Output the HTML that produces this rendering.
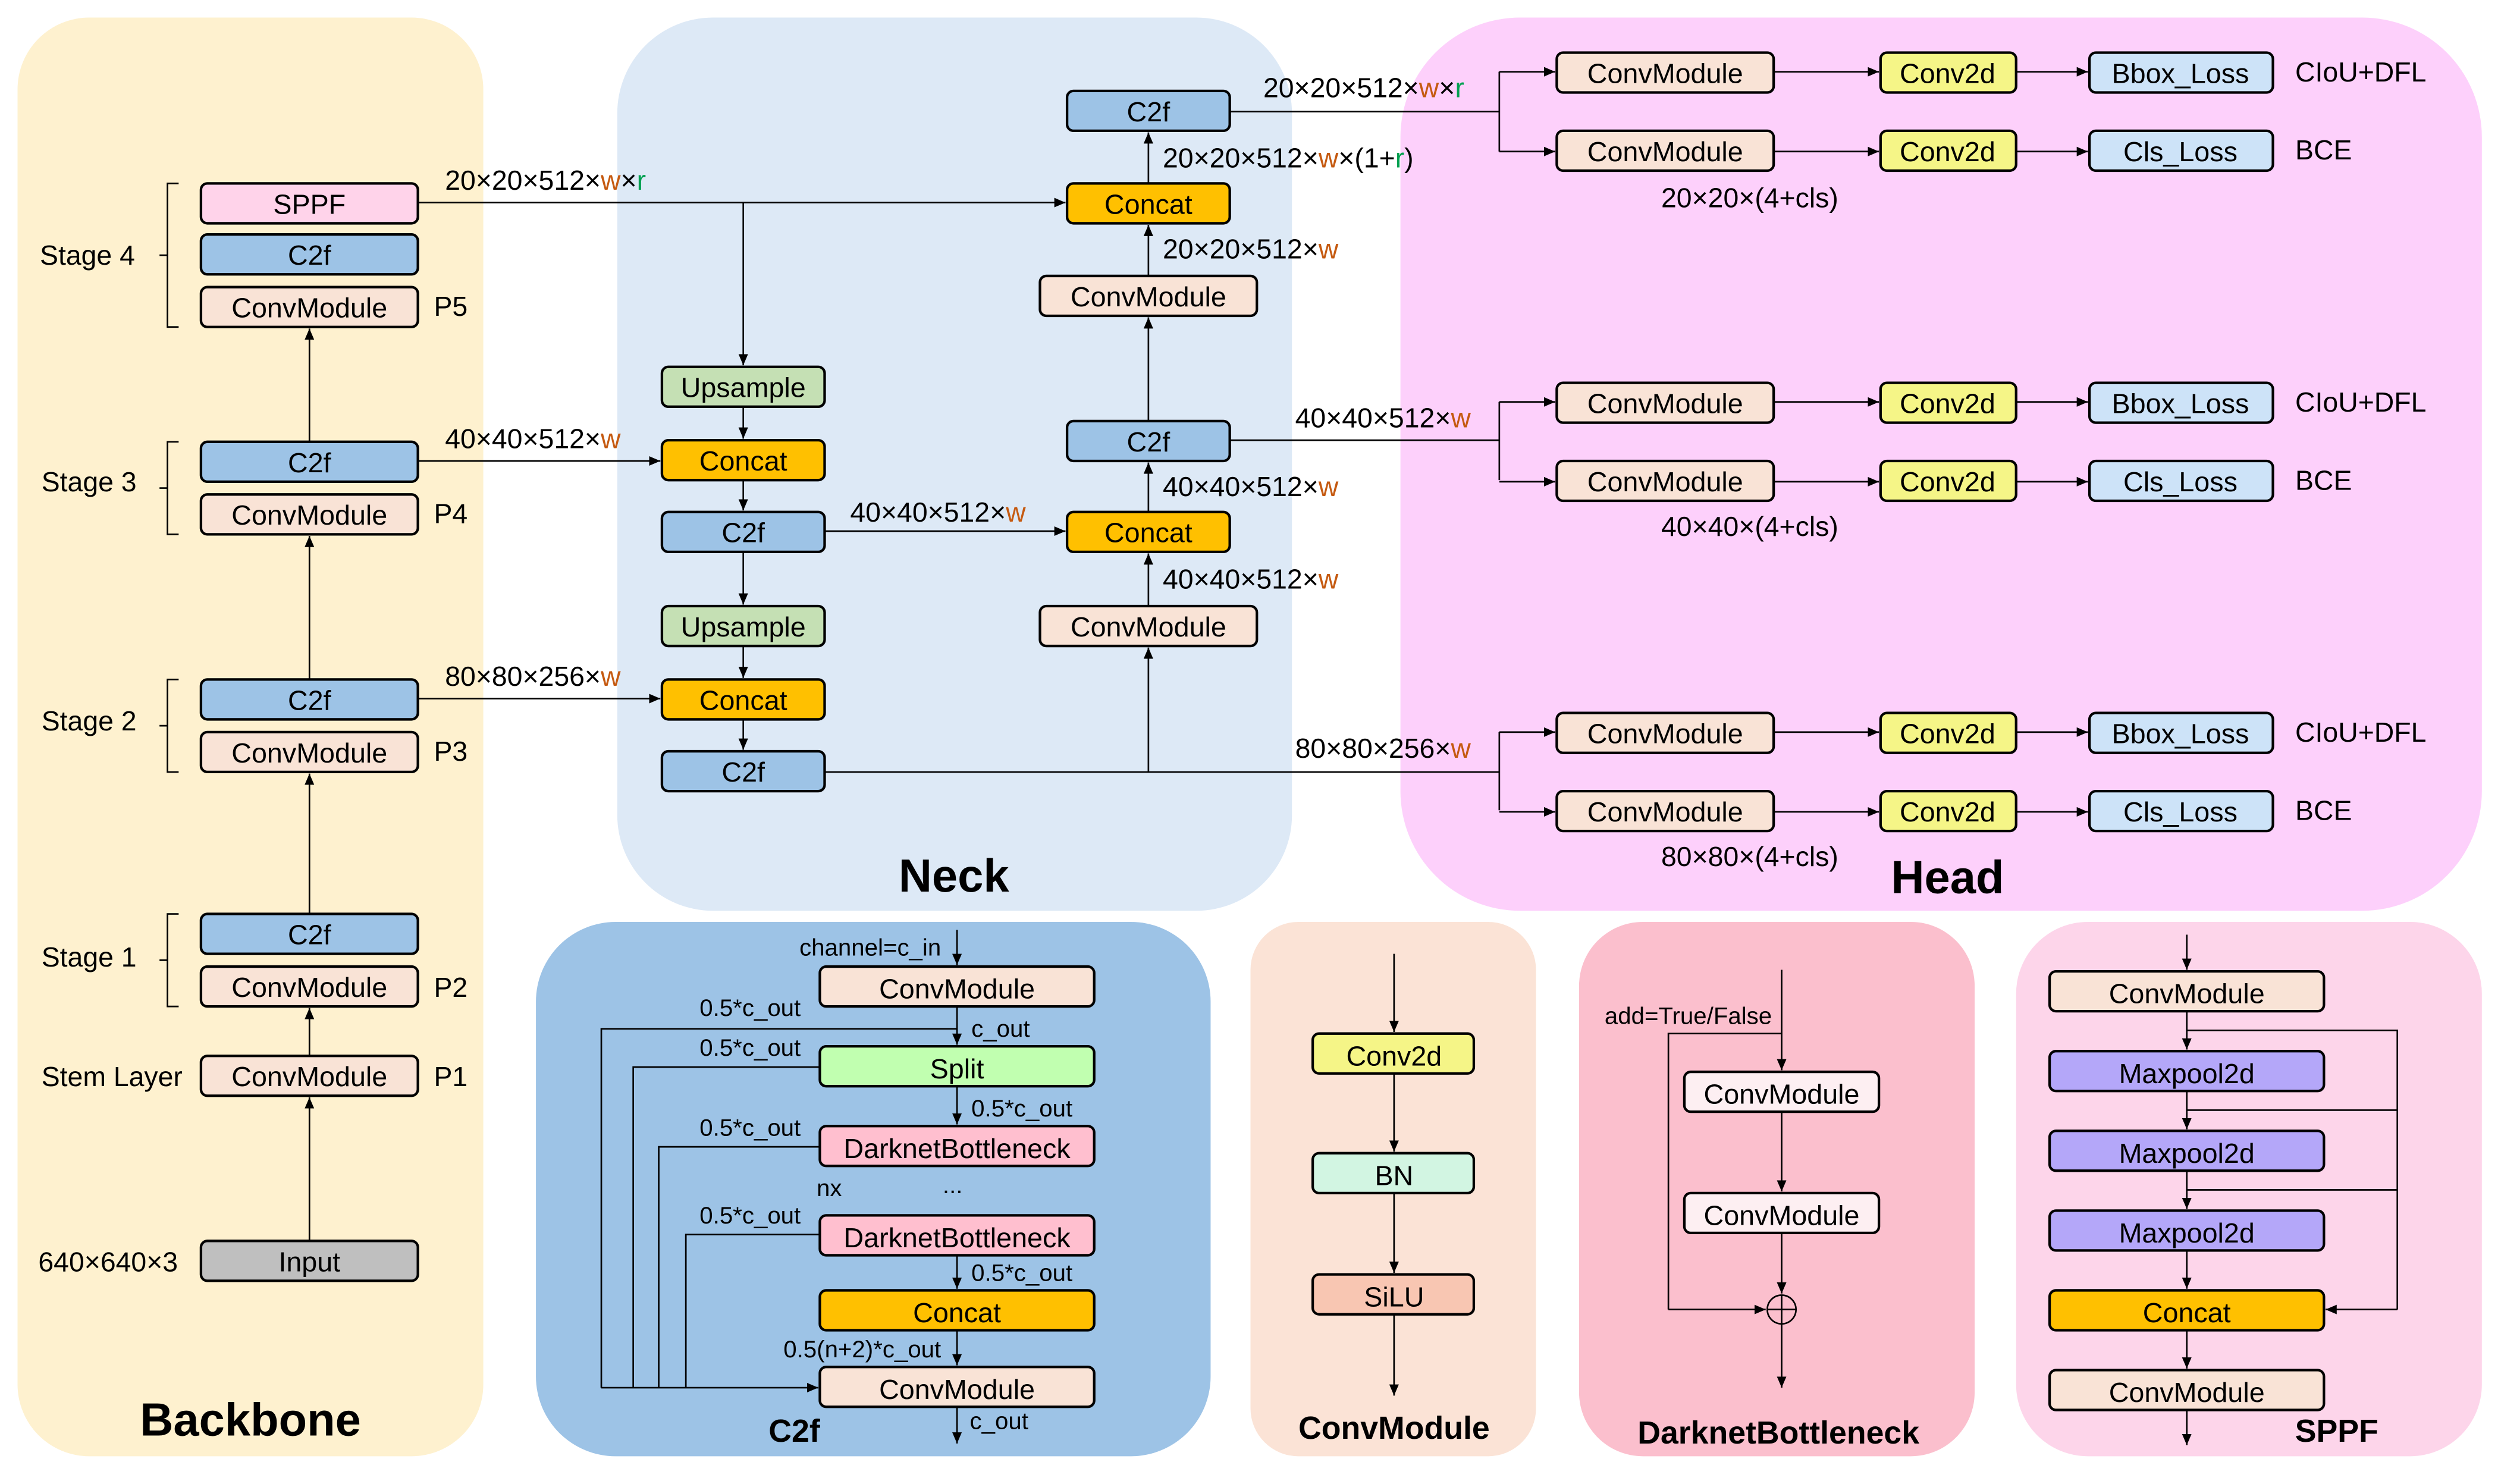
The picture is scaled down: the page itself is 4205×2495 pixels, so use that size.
<!DOCTYPE html>
<html><head><meta charset="utf-8"><style>html,body{margin:0;padding:0;background:#fff}svg{display:block}text{font-family:"Liberation Sans",Arial,sans-serif;fill:#000}</style></head>
<body>
<svg width="4205" height="2495" viewBox="0 0 1568 930.4" preserveAspectRatio="none" xmlns="http://www.w3.org/2000/svg">
<defs><marker id="a" markerWidth="8" markerHeight="8" refX="7" refY="4" orient="auto" markerUnits="userSpaceOnUse"><path d="M0,1 L7,4 L0,7 z" fill="#000"/></marker></defs>
<rect x="11" y="11" width="292" height="902" rx="45" fill="#fef1cf"/>
<rect x="387" y="11" width="423" height="560" rx="60" fill="#dde9f6"/>
<rect x="878" y="11" width="678" height="560" rx="75" fill="#fdd0fb"/>
<rect x="336" y="578" width="423" height="335" rx="50" fill="#9dc3e6"/>
<rect x="784" y="578" width="179" height="335" rx="30" fill="#fbe3d6"/>
<rect x="990" y="578" width="248" height="335" rx="40" fill="#fbbfcd"/>
<rect x="1264" y="578" width="292" height="335" rx="45" fill="#fdd5ea"/>
<g font-weight="bold" text-anchor="middle">
<text x="157" y="900" font-size="29">Backbone</text>
<text x="598" y="559" font-size="29">Neck</text>
<text x="1221" y="560" font-size="29">Head</text>
<text x="498" y="904" font-size="20">C2f</text>
<text x="874" y="902" font-size="20">ConvModule</text>
<text x="1115" y="905" font-size="20">DarknetBottleneck</text>
<text x="1465" y="904" font-size="20">SPPF</text>
</g>
<g fill="none" stroke="#000" stroke-width="1">
<line x1="194" y1="778" x2="194" y2="688" marker-end="url(#a)"/>
<line x1="194" y1="662" x2="194" y2="632" marker-end="url(#a)"/>
<line x1="194" y1="573" x2="194" y2="485" marker-end="url(#a)"/>
<line x1="194" y1="426" x2="194" y2="336" marker-end="url(#a)"/>
<line x1="194" y1="277" x2="194" y2="206" marker-end="url(#a)"/>
<path d="M112,115 H105 V205 H112 M105,160 H100"/>
<path d="M112,277 H105 V335 H112 M105,306 H100"/>
<path d="M112,426 H105 V484 H112 M105,455 H100"/>
<path d="M112,573 H105 V631 H112 M105,602 H100"/>
<line x1="262" y1="127" x2="668" y2="127" marker-end="url(#a)"/>
<line x1="466" y1="127" x2="466" y2="229" marker-end="url(#a)"/>
<line x1="466" y1="255" x2="466" y2="275" marker-end="url(#a)"/>
<line x1="262" y1="289" x2="414" y2="289" marker-end="url(#a)"/>
<line x1="466" y1="301" x2="466" y2="320" marker-end="url(#a)"/>
<line x1="466" y1="346" x2="466" y2="379" marker-end="url(#a)"/>
<line x1="466" y1="405" x2="466" y2="425" marker-end="url(#a)"/>
<line x1="262" y1="438" x2="414" y2="438" marker-end="url(#a)"/>
<line x1="466" y1="451" x2="466" y2="470" marker-end="url(#a)"/>
<line x1="517" y1="484" x2="940" y2="484"/>
<line x1="720" y1="484" x2="720" y2="406" marker-end="url(#a)"/>
<line x1="720" y1="380" x2="720" y2="347" marker-end="url(#a)"/>
<line x1="517" y1="333" x2="668" y2="333" marker-end="url(#a)"/>
<line x1="720" y1="321" x2="720" y2="290" marker-end="url(#a)"/>
<line x1="771" y1="276" x2="940" y2="276"/>
<line x1="720" y1="264" x2="720" y2="199" marker-end="url(#a)"/>
<line x1="720" y1="173" x2="720" y2="141" marker-end="url(#a)"/>
<line x1="720" y1="115" x2="720" y2="83" marker-end="url(#a)"/>
<line x1="771" y1="70" x2="940" y2="70"/>
<path d="M940,45 V95"/><path d="M940,252 V301"/><path d="M940,459 V508"/>
<g id="hr">
<line x1="940" y1="45" x2="975" y2="45" marker-end="url(#a)"/>
<line x1="1112" y1="45" x2="1178" y2="45" marker-end="url(#a)"/>
<line x1="1264" y1="45" x2="1309" y2="45" marker-end="url(#a)"/>
<line x1="940" y1="95" x2="975" y2="95" marker-end="url(#a)"/>
<line x1="1112" y1="95" x2="1178" y2="95" marker-end="url(#a)"/>
<line x1="1264" y1="95" x2="1309" y2="95" marker-end="url(#a)"/>
</g>
<use href="#hr" y="207"/><use href="#hr" y="414"/>
<line x1="600" y1="583" x2="600" y2="605" marker-end="url(#a)"/>
<line x1="600" y1="631" x2="600" y2="655" marker-end="url(#a)"/>
<line x1="600" y1="681" x2="600" y2="705" marker-end="url(#a)"/>
<line x1="600" y1="787" x2="600" y2="808" marker-end="url(#a)"/>
<line x1="600" y1="834" x2="600" y2="856" marker-end="url(#a)"/>
<line x1="600" y1="882" x2="600" y2="905" marker-end="url(#a)"/>
<path d="M600,645 H377 V870"/>
<path d="M514,669 H397 V870"/>
<path d="M514,719 H413 V870"/>
<path d="M514,774 H430 V870"/>
<line x1="377" y1="870" x2="513" y2="870" marker-end="url(#a)"/>
<line x1="874" y1="598" x2="874" y2="647" marker-end="url(#a)"/>
<line x1="874" y1="673" x2="874" y2="722" marker-end="url(#a)"/>
<line x1="874" y1="748" x2="874" y2="798" marker-end="url(#a)"/>
<line x1="874" y1="824" x2="874" y2="875" marker-end="url(#a)"/>
<line x1="1117" y1="608" x2="1117" y2="671" marker-end="url(#a)"/>
<line x1="1117" y1="697" x2="1117" y2="747" marker-end="url(#a)"/>
<line x1="1117" y1="773" x2="1117" y2="811" marker-end="url(#a)"/>
<path d="M1117,648 H1046 V821"/>
<line x1="1046" y1="821" x2="1107" y2="821" marker-end="url(#a)"/>
<circle cx="1117" cy="821" r="9"/>
<path d="M1108,821 H1126 M1117,812 V830"/>
<line x1="1117" y1="830" x2="1117" y2="870" marker-end="url(#a)"/>
<line x1="1371" y1="586" x2="1371" y2="608" marker-end="url(#a)"/>
<line x1="1371" y1="634" x2="1371" y2="658" marker-end="url(#a)"/>
<line x1="1371" y1="684" x2="1371" y2="708" marker-end="url(#a)"/>
<line x1="1371" y1="734" x2="1371" y2="758" marker-end="url(#a)"/>
<line x1="1371" y1="784" x2="1371" y2="808" marker-end="url(#a)"/>
<line x1="1371" y1="834" x2="1371" y2="858" marker-end="url(#a)"/>
<line x1="1371" y1="884" x2="1371" y2="906" marker-end="url(#a)"/>
<path d="M1371,646 H1503 V821 M1371,696 H1503 M1371,746 H1503"/>
<line x1="1503" y1="821" x2="1458" y2="821" marker-end="url(#a)"/>
</g>
<g stroke="#000" stroke-width="1.6">
<rect x="126" y="115" width="136" height="25" rx="4" fill="#ffd3ea"/>
<rect x="126" y="147" width="136" height="25" rx="4" fill="#9dc3e6"/>
<rect x="126" y="180" width="136" height="25" rx="4" fill="#f9e3d6"/>
<rect x="126" y="277" width="136" height="25" rx="4" fill="#9dc3e6"/>
<rect x="126" y="310" width="136" height="25" rx="4" fill="#f9e3d6"/>
<rect x="126" y="426" width="136" height="25" rx="4" fill="#9dc3e6"/>
<rect x="126" y="459" width="136" height="25" rx="4" fill="#f9e3d6"/>
<rect x="126" y="573" width="136" height="25" rx="4" fill="#9dc3e6"/>
<rect x="126" y="606" width="136" height="25" rx="4" fill="#f9e3d6"/>
<rect x="126" y="662" width="136" height="25" rx="4" fill="#f9e3d6"/>
<rect x="126" y="778" width="136" height="25" rx="4" fill="#bfbfbf"/>
<rect x="415" y="230" width="102" height="25" rx="4" fill="#c5e0b4"/>
<rect x="415" y="276" width="102" height="25" rx="4" fill="#ffc000"/>
<rect x="415" y="321" width="102" height="25" rx="4" fill="#9dc3e6"/>
<rect x="415" y="380" width="102" height="25" rx="4" fill="#c5e0b4"/>
<rect x="415" y="426" width="102" height="25" rx="4" fill="#ffc000"/>
<rect x="415" y="471" width="102" height="25" rx="4" fill="#9dc3e6"/>
<rect x="669" y="57" width="102" height="25" rx="4" fill="#9dc3e6"/>
<rect x="669" y="115" width="102" height="25" rx="4" fill="#ffc000"/>
<rect x="652" y="173" width="136" height="25" rx="4" fill="#f9e3d6"/>
<rect x="669" y="264" width="102" height="25" rx="4" fill="#9dc3e6"/>
<rect x="669" y="321" width="102" height="25" rx="4" fill="#ffc000"/>
<rect x="652" y="380" width="136" height="25" rx="4" fill="#f9e3d6"/>
<g id="hb">
<rect x="976" y="33" width="136" height="25" rx="4" fill="#f9e3d6"/>
<rect x="1179" y="33" width="85" height="25" rx="4" fill="#f5f587"/>
<rect x="1310" y="33" width="115" height="25" rx="4" fill="#cde3f8"/>
<rect x="976" y="82" width="136" height="25" rx="4" fill="#f9e3d6"/>
<rect x="1179" y="82" width="85" height="25" rx="4" fill="#f5f587"/>
<rect x="1310" y="82" width="115" height="25" rx="4" fill="#cde3f8"/>
</g>
<use href="#hb" y="207"/><use href="#hb" y="414"/>
<rect x="514" y="606" width="172" height="25" rx="4" fill="#f9e3d6"/>
<rect x="514" y="656" width="172" height="25" rx="4" fill="#c1ffb0"/>
<rect x="514" y="706" width="172" height="25" rx="4" fill="#ffbfcf"/>
<rect x="514" y="762" width="172" height="25" rx="4" fill="#ffbfcf"/>
<rect x="514" y="809" width="172" height="25" rx="4" fill="#ffc000"/>
<rect x="514" y="857" width="172" height="25" rx="4" fill="#f9e3d6"/>
<rect x="823" y="648" width="101" height="25" rx="4" fill="#f5f587"/>
<rect x="823" y="723" width="101" height="25" rx="4" fill="#d2f5e2"/>
<rect x="823" y="799" width="101" height="25" rx="4" fill="#f8c6b2"/>
<rect x="1056" y="672" width="122" height="25" rx="4" fill="#fdeff2"/>
<rect x="1056" y="748" width="122" height="25" rx="4" fill="#fdeff2"/>
<rect x="1285" y="609" width="172" height="25" rx="4" fill="#f9e3d6"/>
<rect x="1285" y="659" width="172" height="25" rx="4" fill="#b4a7f9"/>
<rect x="1285" y="709" width="172" height="25" rx="4" fill="#b4a7f9"/>
<rect x="1285" y="759" width="172" height="25" rx="4" fill="#b4a7f9"/>
<rect x="1285" y="809" width="172" height="25" rx="4" fill="#ffc000"/>
<rect x="1285" y="859" width="172" height="25" rx="4" fill="#f9e3d6"/>
</g>
<g font-size="17.4" text-anchor="middle">
<text x="194" y="134">SPPF</text><text x="194" y="166">C2f</text><text x="194" y="199">ConvModule</text>
<text x="194" y="296">C2f</text><text x="194" y="329">ConvModule</text>
<text x="194" y="445">C2f</text><text x="194" y="478">ConvModule</text>
<text x="194" y="592">C2f</text><text x="194" y="625">ConvModule</text>
<text x="194" y="681">ConvModule</text><text x="194" y="797">Input</text>
<text x="466" y="249">Upsample</text><text x="466" y="295">Concat</text><text x="466" y="340">C2f</text>
<text x="466" y="399">Upsample</text><text x="466" y="445">Concat</text><text x="466" y="490">C2f</text>
<text x="720" y="76">C2f</text><text x="720" y="134">Concat</text><text x="720" y="192">ConvModule</text>
<text x="720" y="283">C2f</text><text x="720" y="340">Concat</text><text x="720" y="399">ConvModule</text>
<g id="ht">
<text x="1044" y="52">ConvModule</text><text x="1221" y="52">Conv2d</text><text x="1367" y="52">Bbox_Loss</text>
<text x="1044" y="101">ConvModule</text><text x="1221" y="101">Conv2d</text><text x="1367" y="101">Cls_Loss</text>
</g>
<use href="#ht" y="207"/><use href="#ht" y="414"/>
<text x="600" y="626">ConvModule</text><text x="600" y="676">Split</text>
<text x="600" y="726">DarknetBottleneck</text><text x="600" y="782">DarknetBottleneck</text>
<text x="600" y="829">Concat</text><text x="600" y="877">ConvModule</text>
<text x="874" y="668">Conv2d</text><text x="874" y="743">BN</text><text x="874" y="819">SiLU</text>
<text x="1117" y="692">ConvModule</text><text x="1117" y="768">ConvModule</text>
<text x="1371" y="629">ConvModule</text><text x="1371" y="679">Maxpool2d</text><text x="1371" y="729">Maxpool2d</text>
<text x="1371" y="779">Maxpool2d</text><text x="1371" y="829">Concat</text><text x="1371" y="879">ConvModule</text>
</g>
<g font-size="17.3">
<text x="25" y="166">Stage 4</text><text x="26" y="308">Stage 3</text><text x="26" y="458">Stage 2</text>
<text x="26" y="606">Stage 1</text><text x="26" y="681">Stem Layer</text><text x="24" y="797">640×640×3</text>
<text x="272" y="198">P5</text><text x="272" y="328">P4</text><text x="272" y="477">P3</text><text x="272" y="625">P2</text><text x="272" y="681">P1</text>
<text x="279" y="119">20×20×512×<tspan fill="#c55a11">w</tspan>×<tspan fill="#00a050">r</tspan></text>
<text x="279" y="281">40×40×512×<tspan fill="#c55a11">w</tspan></text>
<text x="279" y="430">80×80×256×<tspan fill="#c55a11">w</tspan></text>
<text x="533" y="327">40×40×512×<tspan fill="#c55a11">w</tspan></text>
<text x="792" y="61">20×20×512×<tspan fill="#c55a11">w</tspan>×<tspan fill="#00a050">r</tspan></text>
<text x="729" y="105">20×20×512×<tspan fill="#c55a11">w</tspan>×(1+<tspan fill="#00a050">r</tspan>)</text>
<text x="729" y="162">20×20×512×<tspan fill="#c55a11">w</tspan></text>
<text x="812" y="268">40×40×512×<tspan fill="#c55a11">w</tspan></text>
<text x="729" y="311">40×40×512×<tspan fill="#c55a11">w</tspan></text>
<text x="729" y="369">40×40×512×<tspan fill="#c55a11">w</tspan></text>
<text x="812" y="475">80×80×256×<tspan fill="#c55a11">w</tspan></text>
<text x="1439" y="51">CIoU+DFL</text><text x="1439" y="100">BCE</text>
<text x="1439" y="258">CIoU+DFL</text><text x="1439" y="307">BCE</text>
<text x="1439" y="465">CIoU+DFL</text><text x="1439" y="514">BCE</text>
<text x="1097" y="130" text-anchor="middle">20×20×(4+cls)</text>
<text x="1097" y="336" text-anchor="middle">40×40×(4+cls)</text>
<text x="1097" y="543" text-anchor="middle">80×80×(4+cls)</text>
</g>
<g font-size="15">
<text x="590" y="599" text-anchor="end">channel=c_in</text>
<text x="502" y="637" text-anchor="end">0.5*c_out</text>
<text x="502" y="662" text-anchor="end">0.5*c_out</text>
<text x="502" y="712" text-anchor="end">0.5*c_out</text>
<text x="502" y="767" text-anchor="end">0.5*c_out</text>
<text x="609" y="650">c_out</text><text x="609" y="700">0.5*c_out</text><text x="609" y="803">0.5*c_out</text>
<text x="590" y="851" text-anchor="end">0.5(n+2)*c_out</text>
<text x="608" y="896">c_out</text>
<text x="512" y="750">nx</text><text x="591" y="748">...</text>
<text x="1006" y="642">add=True/False</text>
</g>
</svg>
</body></html>
